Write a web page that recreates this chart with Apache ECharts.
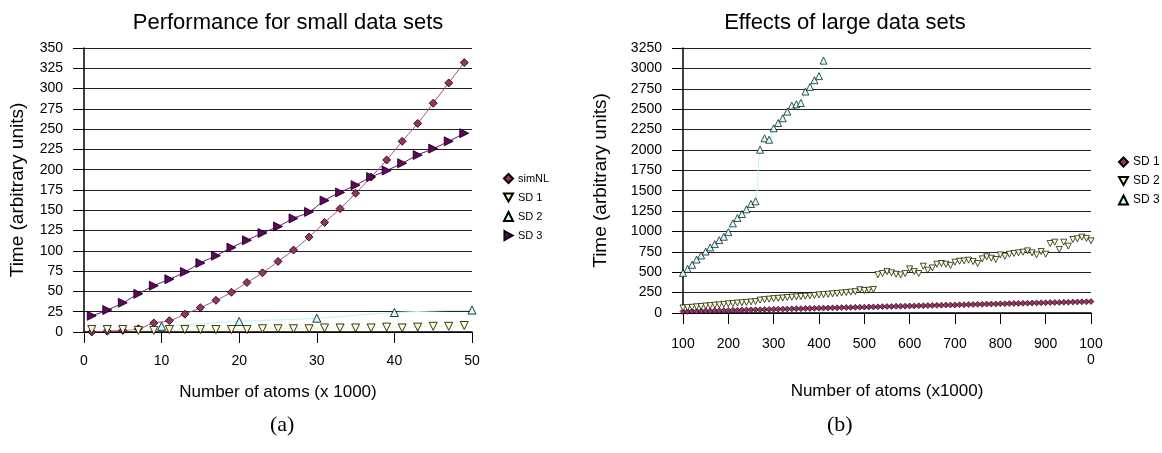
<!DOCTYPE html>
<html lang="en">
<head>
    <meta charset="UTF-8">
    <title>Performance charts</title>
    <style>
        body { margin: 0; background: #fff; }
        #main { width: 1162px; height: 453px; }
    </style>
</head>
<body>
<div id="main"></div>

<script src="https://cdn.jsdelivr.net/npm/echarts@6.0.0/dist/echarts.min.js"></script>
<script>
    // (a) small data sets
    var smallX = [1, 3, 5, 7, 9, 11, 13, 15, 17, 19, 21, 23, 25, 27, 29, 31, 33, 35, 37, 39, 41, 43, 45, 47, 49];
    var smallSimNL = [0, 1, 2, 4, 11, 14, 22, 30, 39, 49, 61, 73, 87, 101, 117, 135, 152, 171, 191, 212, 235, 257, 282, 307, 332];
    var smallSD1 = [3, 3, 3, 2, 2, 3, 3, 3, 3, 3, 3, 4, 4, 4, 4, 5, 5, 5, 5, 6, 5, 6, 7, 7, 8];
    var smallSD2X = [10, 20, 30, 40, 50];
    var smallSD2 = [7, 13, 17, 24, 27];
    var smallSD3 = [20, 27, 36, 47, 57, 65, 74, 85, 94, 104, 113, 122, 130, 140, 148, 162, 172, 181, 191, 199, 208, 218, 226, 235, 245];

    // (b) large data sets
    var largeX = [100, 110, 120, 130, 140, 150, 160, 170, 180, 190,
        200, 210, 220, 230, 240, 250, 260, 270, 280, 290,
        300, 310, 320, 330, 340, 350, 360, 370, 380, 390,
        400, 410, 420, 430, 440, 450, 460, 470, 480, 490,
        500, 510, 520, 530, 540, 550, 560, 570, 580, 590,
        600, 610, 620, 630, 640, 650, 660, 670, 680, 690,
        700, 710, 720, 730, 740, 750, 760, 770, 780, 790,
        800, 810, 820, 830, 840, 850, 860, 870, 880, 890,
        900, 910, 920, 930, 940, 950, 960, 970, 980, 990, 1000];
    var largeSD1 = [18, 19, 21, 22, 24, 25, 26, 28, 29, 30,
        32, 33, 34, 36, 37, 39, 40, 41, 43, 44,
        45, 47, 48, 49, 51, 52, 53, 55, 56, 57,
        59, 60, 61, 63, 64, 66, 67, 68, 70, 71,
        72, 74, 75, 76, 78, 79, 80, 82, 83, 84,
        86, 87, 88, 90, 91, 93, 94, 95, 97, 98,
        99, 101, 102, 103, 105, 106, 107, 109, 110, 111,
        113, 114, 115, 117, 118, 120, 121, 122, 124, 125,
        126, 128, 129, 130, 132, 133, 134, 136, 137, 138, 141];
    var largeSD2 = [62, 66, 70, 76, 80, 86, 90, 96, 100, 106,
        112, 116, 122, 126, 130, 136, 140, 158, 164, 170,
        176, 180, 184, 190, 194, 198, 202, 206, 210, 216,
        222, 226, 230, 236, 240, 246, 250, 256, 262, 285,
        276, 280, 288, 470, 484, 508, 492, 475, 467, 484,
        541, 508, 484, 574, 525, 553, 598, 607, 598, 582,
        623, 635, 639, 648, 631, 607, 664, 689, 672, 656,
        713, 697, 721, 730, 738, 746, 762, 738, 713, 754,
        721, 852, 869, 779, 869, 820, 902, 910, 930, 915, 885];
    var largeSD3 = [492, 541, 591, 656, 705, 754, 804, 845, 894, 935,
        992, 1099, 1165, 1214, 1271, 1337, 1370, 2002, 2142, 2125,
        2265, 2330, 2388, 2470, 2543, 2560, 2576, 2716, 2773, 2855,
        2905, 3095];

    var smallXTicks = [0, 10, 20, 30, 40, 50];
    var largeXTicks = [100, 200, 300, 400, 500, 600, 700, 800, 900, 1000];

    function pairs(xs, ys) {
        return ys.map(function (y, i) { return [xs[i], y]; });
    }

    var DOWN = 'path://M0,0L10,0L5,9Z';
    var UP = 'triangle';
    var RIGHT = 'path://M0,0L9,5L0,10Z';
    var FONT = 'Liberation Sans';

    var axisLine = { show: true, onZero: false, lineStyle: { color: '#000', width: 1.5 } };
    var axisTick = { show: true, inside: false, length: 11, lineStyle: { color: '#000', width: 1 } };
    var splitLine = { show: true, lineStyle: { color: '#222', width: 1 } };
    var tickLabel = { color: '#000', fontFamily: FONT, fontSize: 14,
        formatter: function (v) { return String(v); } };

    var myChart = echarts.init(document.getElementById('main'));
    var option = {
        backgroundColor: '#fff',
        animation: false,
        title: [
            { text: 'Performance for small data sets', left: 283, top: 7, textAlign: 'center',
              textStyle: { fontFamily: FONT, fontSize: 22, fontWeight: 'normal', color: '#000' } },
            { text: 'Effects of large data sets', left: 840, top: 7, textAlign: 'center',
              textStyle: { fontFamily: FONT, fontSize: 22, fontWeight: 'normal', color: '#000' } }
        ],
        legend: [
            { orient: 'vertical', left: 498, top: 168, itemWidth: 9, itemHeight: 9, itemGap: 8,
              textStyle: { fontFamily: FONT, fontSize: 11, color: '#000' },
              data: [
                  { name: 'simNL', icon: 'diamond' },
                  { name: 'SD 1', icon: DOWN },
                  { name: 'SD 2', icon: UP },
                  { name: 'SD 3', icon: RIGHT }
              ] },
            { orient: 'vertical', left: 1113, top: 151, itemWidth: 9, itemHeight: 9, itemGap: 7,
              textStyle: { fontFamily: FONT, fontSize: 12, color: '#000' },
              data: [
                  { name: 'SD 1 ', icon: 'diamond' },
                  { name: 'SD 2 ', icon: DOWN },
                  { name: 'SD 3 ', icon: UP }
              ],
              formatter: function (n) { return n.trim(); } }
        ],
        grid: [
            { left: 84, top: 48, width: 388, height: 284 },
            { left: 683, top: 48, width: 408, height: 265 }
        ],
        xAxis: [
            { type: 'value', gridIndex: 0, min: 0, max: 50, interval: 10,
              name: 'Number of atoms (x 1000)', nameLocation: 'middle', nameGap: 52,
              nameTextStyle: { fontFamily: FONT, fontSize: 17, color: '#000', verticalAlign: 'top' },
              axisLine: axisLine, axisTick: axisTick, splitLine: { show: false },
              axisLabel: Object.assign({}, tickLabel, { margin: 22, customValues: smallXTicks }) },
            { type: 'value', gridIndex: 1, min: 100, max: 1000, interval: 100,
              name: 'Number of atoms (x1000)', nameLocation: 'middle', nameGap: 70,
              nameTextStyle: { fontFamily: FONT, fontSize: 17, color: '#000', verticalAlign: 'top' },
              axisLine: axisLine, axisTick: axisTick, splitLine: { show: false },
              axisLabel: Object.assign({}, tickLabel, { margin: 23, lineHeight: 16, verticalAlign: 'top',
                  formatter: function (v) { return v === largeXTicks[9] ? '100\n0' : String(v); } }) }
        ],
        yAxis: [
            { type: 'value', gridIndex: 0, min: 0, max: 350, interval: 25,
              name: 'Time (arbitrary units)', nameLocation: 'middle', nameGap: 57,
              nameTextStyle: { fontFamily: FONT, fontSize: 19, color: '#000' },
              axisLine: axisLine, axisTick: axisTick, splitLine: splitLine,
              axisLabel: Object.assign({}, tickLabel, { margin: 21 }) },
            { type: 'value', gridIndex: 1, min: 0, max: 3250, interval: 250,
              name: 'Time (arbitrary units)', nameLocation: 'middle', nameGap: 73,
              nameTextStyle: { fontFamily: FONT, fontSize: 19, color: '#000' },
              axisLine: axisLine, axisTick: axisTick, splitLine: splitLine,
              axisLabel: Object.assign({}, tickLabel, { margin: 21 }) }
        ],
        graphic: [
            { type: 'text', left: 270, top: 414, style: { text: '(a)', fontFamily: 'Liberation Serif', fontSize: 22, fill: '#000' } },
            { type: 'text', left: 827, top: 414, style: { text: '(b)', fontFamily: 'Liberation Serif', fontSize: 22, fill: '#000' } }
        ],
        series: [
            { name: 'simNL', type: 'line', xAxisIndex: 0, yAxisIndex: 0, smooth: true,
              data: pairs(smallX, smallSimNL), symbol: 'diamond', symbolSize: 8,
              lineStyle: { color: '#a3477a', width: 1 },
              itemStyle: { color: '#993366', borderColor: '#000', borderWidth: 0.8 } },
            { name: 'SD 1', type: 'line', xAxisIndex: 0, yAxisIndex: 0, smooth: true,
              data: pairs(smallX, smallSD1), symbol: DOWN, symbolSize: 8,
              lineStyle: { color: '#f5f5b8', width: 1 },
              itemStyle: { color: '#ffffcc', borderColor: '#000', borderWidth: 0.8 } },
            { name: 'SD 2', type: 'line', xAxisIndex: 0, yAxisIndex: 0, smooth: true,
              data: pairs(smallSD2X, smallSD2), symbol: UP, symbolSize: 8,
              lineStyle: { color: '#b8f5f5', width: 1 },
              itemStyle: { color: '#ccffff', borderColor: '#000', borderWidth: 0.8 } },
            { name: 'SD 3', type: 'line', xAxisIndex: 0, yAxisIndex: 0, smooth: true,
              data: pairs(smallX, smallSD3), symbol: RIGHT, symbolSize: 9,
              lineStyle: { color: '#660066', width: 1 },
              itemStyle: { color: '#660066', borderColor: '#000', borderWidth: 0.8 } },

            { name: 'SD 1 ', type: 'line', xAxisIndex: 1, yAxisIndex: 1, smooth: true,
              data: pairs(largeX, largeSD1), symbol: 'diamond', symbolSize: 6,
              lineStyle: { color: '#993366', width: 1 },
              itemStyle: { color: '#993366', borderColor: '#000', borderWidth: 0.6 } },
            { name: 'SD 2 ', type: 'line', xAxisIndex: 1, yAxisIndex: 1, smooth: true,
              data: pairs(largeX, largeSD2), symbol: DOWN, symbolSize: 6,
              lineStyle: { color: '#f5f5b8', width: 1 },
              itemStyle: { color: '#ffffcc', borderColor: '#000', borderWidth: 0.7 } },
            { name: 'SD 3 ', type: 'line', xAxisIndex: 1, yAxisIndex: 1, smooth: true,
              data: pairs(largeX, largeSD3), symbol: UP, symbolSize: 7,
              lineStyle: { color: '#b8f5f5', width: 1 },
              itemStyle: { color: '#ccffff', borderColor: '#000', borderWidth: 0.7 } }
        ]
    };

    myChart.setOption(option);
</script>
</body>
</html>
